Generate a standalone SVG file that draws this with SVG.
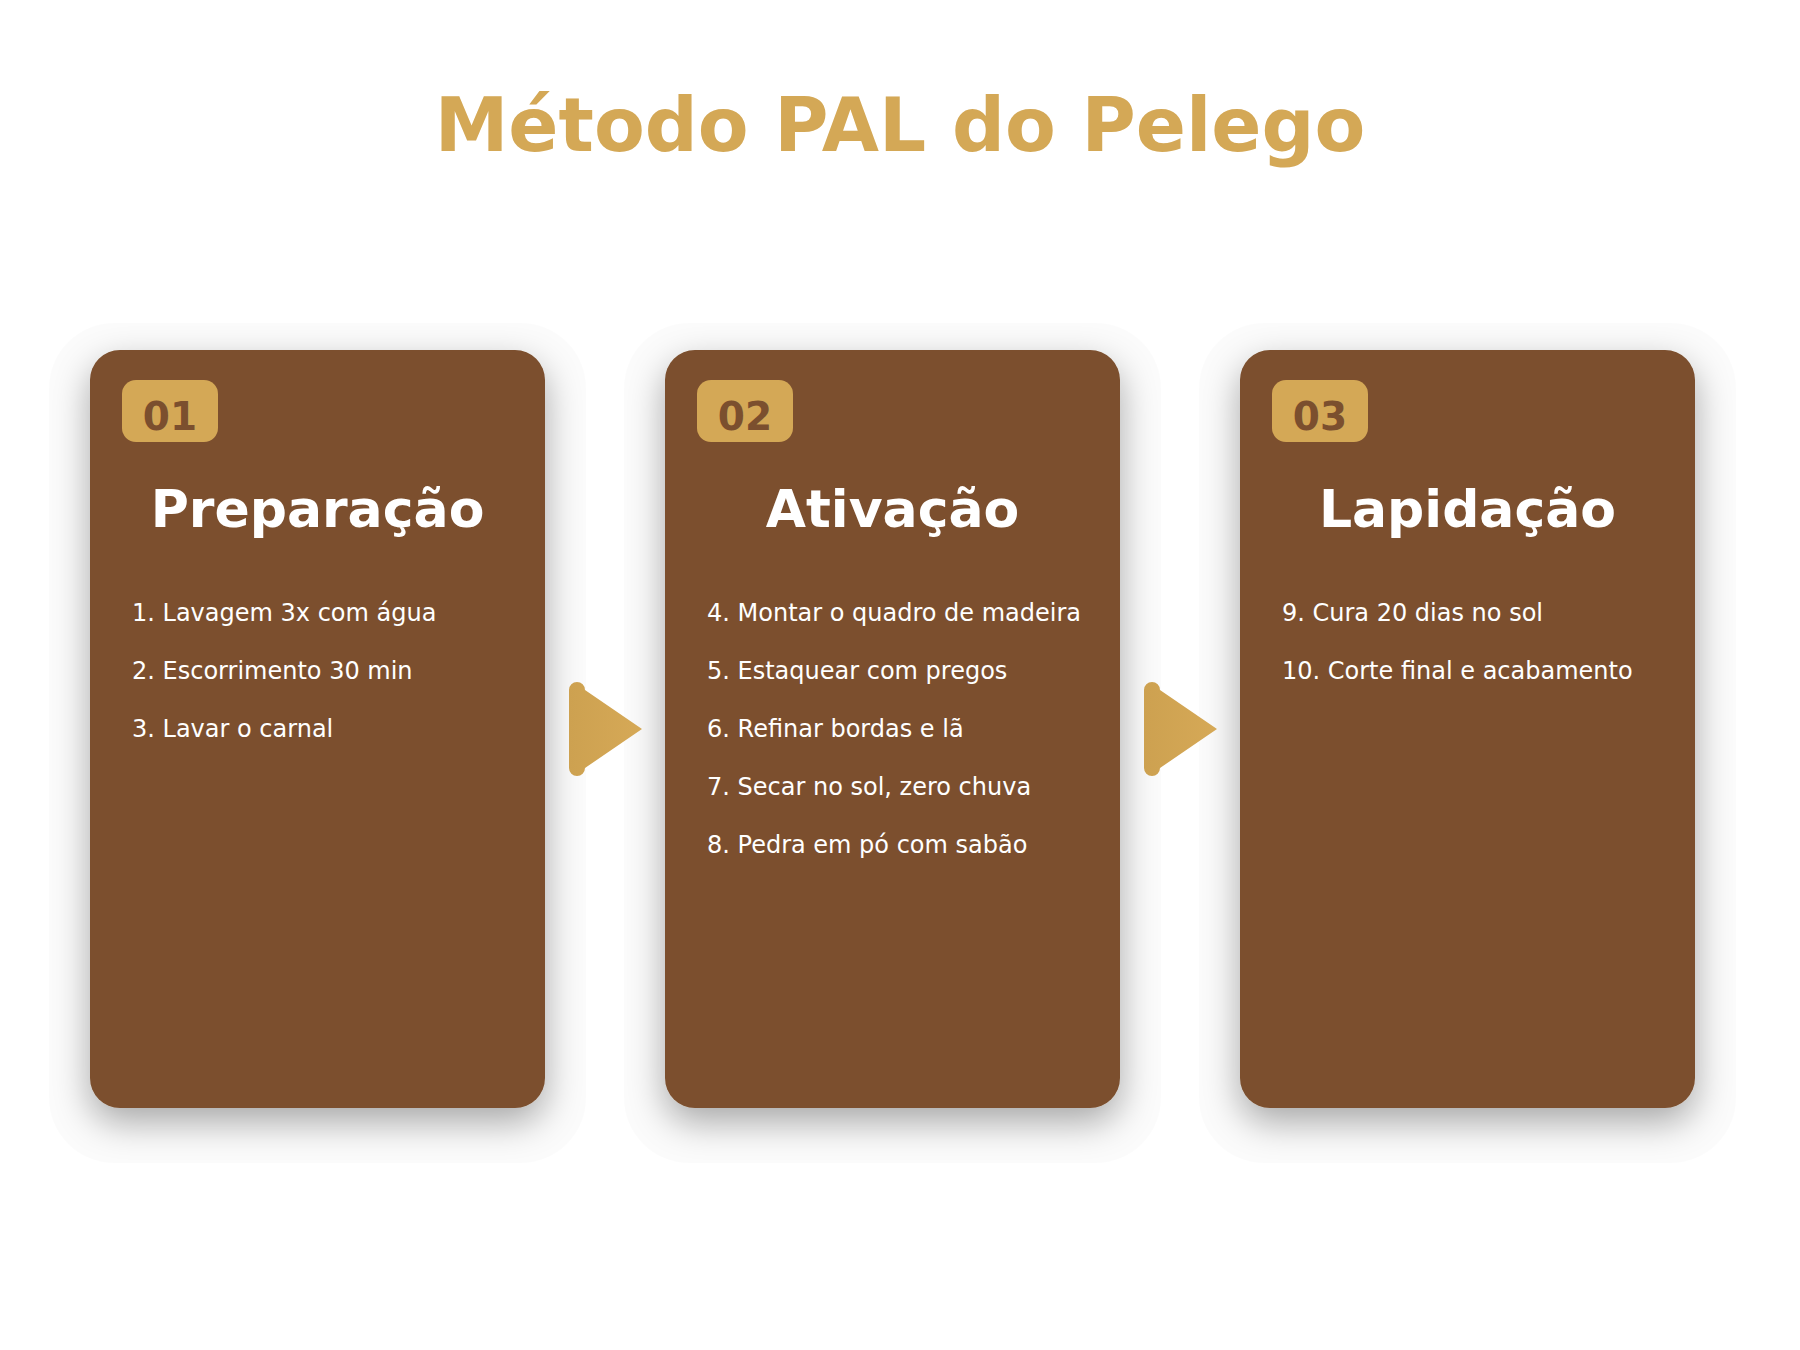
<svg xmlns="http://www.w3.org/2000/svg" width="1800" height="1350" viewBox="0 0 1800 1350">
  <defs>
    <style>
      .title { font-family: "DejaVu Sans", "Liberation Sans", sans-serif; font-weight: bold; font-size: 74px; fill: #D4A856; text-anchor: middle; }
      .card { fill: #7B4F2E; }
      .halo { fill: #000000; fill-opacity: 0.015; }
      .badge { fill: #D4A856; }
      .badge-text { font-family: "DejaVu Sans", sans-serif; font-weight: bold; font-size: 39px; fill: #7B4F2E; text-anchor: middle; }
      .card-title { font-family: "DejaVu Sans", sans-serif; font-weight: bold; font-size: 52px; fill: #FFFFFF; text-anchor: middle; }
      .item { font-family: "DejaVu Sans", sans-serif; font-size: 24px; fill: #FFFFFF; }
      .arrow { fill: url(#arrowGrad); }
    </style>
    <filter id="shadow" x="-30%" y="-20%" width="160%" height="140%">
      <feGaussianBlur in="SourceAlpha" stdDeviation="18"/>
      <feOffset dx="0" dy="14"/>
      <feComponentTransfer>
        <feFuncA type="linear" slope="0.34"/>
      </feComponentTransfer>
      <feMerge>
        <feMergeNode/>
        <feMergeNode in="SourceGraphic"/>
      </feMerge>
    </filter>
    <linearGradient id="arrowGrad" x1="0" y1="0" x2="1" y2="0">
      <stop offset="0" stop-color="#CDA150"/>
      <stop offset="1" stop-color="#D6A957"/>
    </linearGradient>
  </defs>

  <rect x="0" y="0" width="1800" height="1350" fill="#FFFFFF"/>

  <text class="title" x="900" y="151">Método PAL do Pelego</text>

  <g id="card1">
    <rect class="halo" x="49" y="323" width="537" height="840" rx="65"/>
    <rect class="card" x="90" y="350" width="455" height="758" rx="30" filter="url(#shadow)"/>
    <rect class="badge" x="122" y="380" width="96" height="62" rx="14"/>
    <text class="badge-text" x="170" y="430">01</text>
    <text class="card-title" x="317.5" y="527">Preparação</text>
    <text class="item" x="132" y="621">1. Lavagem 3x com água</text>
    <text class="item" x="132" y="679">2. Escorrimento 30 min</text>
    <text class="item" x="132" y="737">3. Lavar o carnal</text>
  </g>

  <g id="card2">
    <rect class="halo" x="624" y="323" width="537" height="840" rx="65"/>
    <rect class="card" x="665" y="350" width="455" height="758" rx="30" filter="url(#shadow)"/>
    <rect class="badge" x="697" y="380" width="96" height="62" rx="14"/>
    <text class="badge-text" x="745" y="430">02</text>
    <text class="card-title" x="892.5" y="527">Ativação</text>
    <text class="item" x="707" y="621">4. Montar o quadro de madeira</text>
    <text class="item" x="707" y="679">5. Estaquear com pregos</text>
    <text class="item" x="707" y="737">6. Refinar bordas e lã</text>
    <text class="item" x="707" y="795">7. Secar no sol, zero chuva</text>
    <text class="item" x="707" y="853">8. Pedra em pó com sabão</text>
  </g>

  <g id="card3">
    <rect class="halo" x="1199" y="323" width="537" height="840" rx="65"/>
    <rect class="card" x="1240" y="350" width="455" height="758" rx="30" filter="url(#shadow)"/>
    <rect class="badge" x="1272" y="380" width="96" height="62" rx="14"/>
    <text class="badge-text" x="1320" y="430">03</text>
    <text class="card-title" x="1467.5" y="527">Lapidação</text>
    <text class="item" x="1282" y="621">9. Cura 20 dias no sol</text>
    <text class="item" x="1282" y="679">10. Corte final e acabamento</text>
  </g>

  <g id="connectors">
    <path class="arrow" d="M 569 690 A 8 8 0 0 1 585 690 L 642 729 L 585 768 A 8 8 0 0 1 569 768 Z"/>
    <path class="arrow" d="M 1144 690 A 8 8 0 0 1 1160 690 L 1217 729 L 1160 768 A 8 8 0 0 1 1144 768 Z"/>
  </g>
</svg>
